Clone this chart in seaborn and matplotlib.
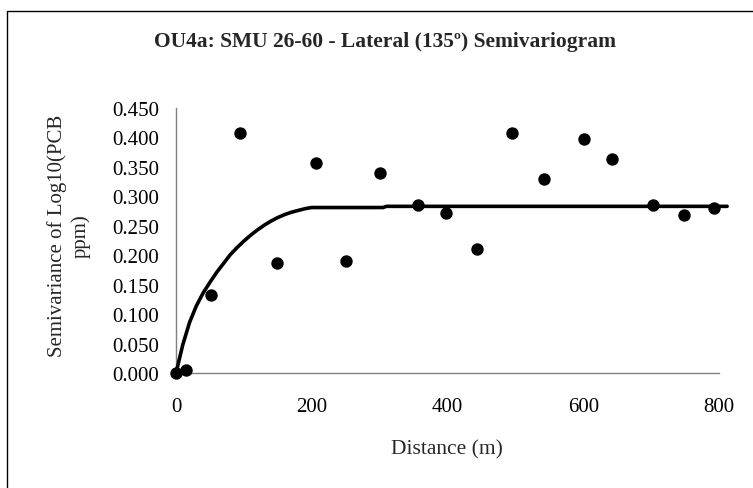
import matplotlib
matplotlib.use("Agg")
import matplotlib.pyplot as plt
import seaborn as sns
import pandas as pd
from matplotlib.patches import Rectangle
from matplotlib.ticker import FormatStrFormatter

# Experimental semivariogram points
distance = [0, 15, 52, 94, 149, 206, 250, 300, 356, 398, 444, 495, 542, 601, 642, 703, 748, 792]
semivariance = [0.000, 0.005, 0.133, 0.407, 0.187, 0.356, 0.191, 0.339, 0.286, 0.271, 0.211,
                0.407, 0.330, 0.397, 0.364, 0.286, 0.268, 0.281]

# Fitted model curve
model_distance = [0, 10, 20, 30, 40, 50, 60, 70, 80, 90, 100, 110, 120, 130, 140, 150, 160,
                  170, 180, 190, 200, 305, 310, 812]
model_semivariance = [0.000, 0.048, 0.086, 0.114, 0.136, 0.154, 0.171, 0.186, 0.201, 0.213,
                      0.224, 0.234, 0.243, 0.251, 0.258, 0.264, 0.269, 0.273, 0.276, 0.279,
                      0.281, 0.281, 0.283, 0.283]

x_ticks = [0, 200, 400, 600, 800]
y_ticks = [0.0, 0.05, 0.10, 0.15, 0.20, 0.25, 0.30, 0.35, 0.40, 0.45]

title = "OU4a: SMU 26-60 - Lateral (135º) Semivariogram"
x_label = "Distance (m)"
y_label = "Semivariance of Log10(PCB\nppm)"

sns.set_theme(style="white")
plt.rcParams["font.family"] = ["Liberation Serif", "DejaVu Serif"]

W, H = 753, 489
fig = plt.figure(figsize=(W / 100, H / 100), dpi=100)
ax = fig.add_axes([176 / W, 1 - 374 / H, (719 - 176) / W, (374 - 109) / H])

pts = pd.DataFrame({"d": distance, "g": semivariance})
mdl = pd.DataFrame({"d": model_distance, "g": model_semivariance})

sns.lineplot(data=mdl, x="d", y="g", ax=ax, color="black", linewidth=2.6, sort=False,
             estimator=None, clip_on=False, zorder=3)
sns.scatterplot(data=pts, x="d", y="g", ax=ax, color="black", s=80, edgecolor="black",
                linewidth=0, clip_on=False, zorder=4)

ax.set_xlim(0, 800)
ax.set_ylim(0, 0.45)
ax.set_xticks(x_ticks)
ax.set_yticks(y_ticks)
ax.yaxis.set_major_formatter(FormatStrFormatter("%.3f"))
for s in ["top", "right"]:
    ax.spines[s].set_visible(False)
for s in ["left", "bottom"]:
    ax.spines[s].set_color("#808080")
    ax.spines[s].set_linewidth(1.0)
ax.tick_params(axis="both", which="major", direction="out", length=5, width=1,
               color="#808080", labelsize=15, labelcolor="black")
ax.tick_params(axis="y", pad=7)
ax.tick_params(axis="x", pad=12)

ax.set_xlabel("")
ax.set_ylabel("")
fig.text(447 / W, 1 - 450 / H, x_label, ha="center", va="center", fontsize=15.5)
fig.text(69 / W, 1 - 236 / H, y_label, rotation=90, ha="center", va="center",
         fontsize=15, multialignment="center", linespacing=1.3)

fig.text(385 / W, 1 - 42 / H, title, ha="center", va="center", fontsize=15.5,
         fontweight="bold")

fig.patches.append(Rectangle((7 / W, -0.05), 1.2, (1 - 12 / H) + 0.05, transform=fig.transFigure,
                             fill=False, edgecolor="black", linewidth=1.0))

fig.savefig("out.png", dpi=100)
